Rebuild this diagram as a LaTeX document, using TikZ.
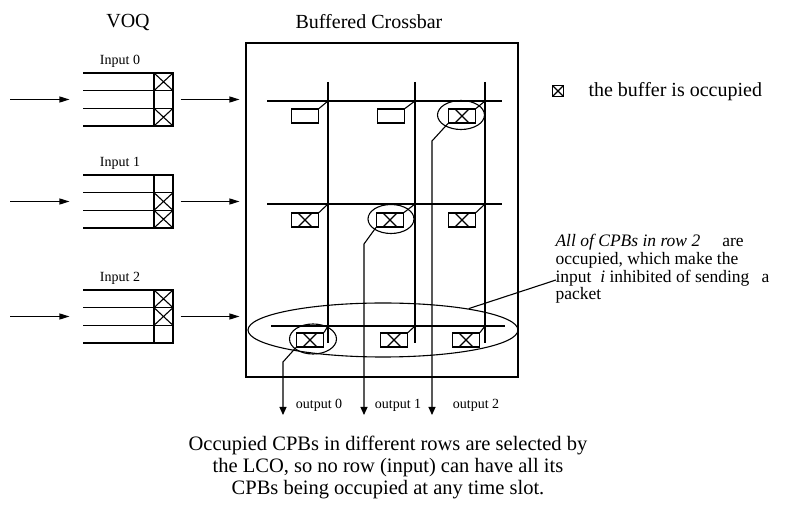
\documentclass[tikz,border=0pt]{standalone}
\usepackage{fontspec}
\setmainfont{Liberation Serif}
\usetikzlibrary{arrows.meta,positioning,calc,shapes.geometric}
\tikzset{every picture/.style={line width=1.1pt}}

\begin{document}
\begin{tikzpicture}[x=1pt,y=-1pt,
    arr/.style={-{Triangle[length=10pt,width=6pt]}},
    outarr/.style={-{Triangle[length=8pt,width=7pt]}},
    cell/.style={draw, minimum width=19pt, minimum height=17.67pt, inner sep=0pt},
    fullcell/.style={cell, path picture={\draw (path picture bounding box.north west) -- (path picture bounding box.south east)
        (path picture bounding box.south west) -- (path picture bounding box.north east);}},
    cpb/.style={draw, minimum width=27pt, minimum height=14pt, inner sep=0pt},
    fullcpb/.style={cpb, path picture={\draw ([xshift=-7pt]path picture bounding box.north) -- ([xshift=7pt]path picture bounding box.south)
        ([xshift=-7pt]path picture bounding box.south) -- ([xshift=7pt]path picture bounding box.north);}},
    ring/.style={draw, ellipse, inner sep=0pt},
    lbl/.style={font=\fontsize{14}{16}\selectfont, inner sep=0pt},
    big/.style={font=\fontsize{20}{22}\selectfont, inner sep=0pt}]
    \useasboundingbox (0,0) rectangle (785,510);

    % titles
    \node[big] (voq) at (128,23) {VOQ};
    \node[big] (bxtitle) at (369,22) {Buffered Crossbar};

    % crossbar frame
    \node[draw, minimum width=272pt, minimum height=334pt, inner sep=0pt] (xbar) at (382,210) {};

    % virtual output queues
    \foreach \i/\y/\a/\b/\c in {0/73/fullcell/cell/fullcell, 1/175/cell/fullcell/fullcell, 2/290/fullcell/fullcell/cell}{
        \node[lbl] (in\i) at (120,\y-12) {Input \i};
        \node[inner sep=0pt, minimum width=90pt, minimum height=53pt] (vq\i) at (128,\y+26.5) {};
        \foreach \k in {0,...,3} \draw (83,\y+\k*17.67) -- (154,\y+\k*17.67);
        \node[\a] (q\i0) at (163.5,\y+8.83) {};
        \node[\b] (q\i1) at (163.5,\y+26.5) {};
        \node[\c] (q\i2) at (163.5,\y+44.17) {};
        \coordinate (src\i) at (10,\y+26.5);
        \draw[arr, shorten >=13pt] (src\i) -- (vq\i.west);
        \draw[arr, shorten <=7pt, shorten >=6pt] (vq\i.east) -- (vq\i.east -| xbar.west);
    }

    % rows and columns of the crossbar
    \draw (267,101) -- (502,101);
    \draw (267,204) -- (502,204);
    \draw (271,326) -- (505,326);
    \foreach \x in {328,415,485} \draw (\x,82) -- (\x,343);
    \foreach \r/\y in {0/101,1/204,2/326}
        \foreach \c/\x in {0/328,1/415,2/485} \coordinate (x\r\c) at (\x,\y);

    % crosspoint buffers
    \node[cpb] (c00) at ($(x00)+(-23,15)$) {};
    \node[cpb] (c01) at ($(x01)+(-24,15)$) {};
    \node[fullcpb] (c02) at ($(x02)+(-23,15)$) {};
    \node[fullcpb] (c10) at ($(x10)+(-23,16)$) {};
    \node[fullcpb] (c11) at ($(x11)+(-25,16)$) {};
    \node[fullcpb] (c12) at ($(x12)+(-23,16)$) {};
    \node[fullcpb] (c20) at ($(x20)+(-18,14)$) {};
    \node[fullcpb] (c21) at ($(x21)+(-21,14)$) {};
    \node[fullcpb] (c22) at ($(x22)+(-19,14)$) {};
    \foreach \r in {0,1,2}
        \foreach \c in {0,1,2} \draw (c\r\c.north east) -- (x\r\c);

    % selected buffers
    \node[ring, minimum width=47pt, minimum height=29pt] (r02) at ([xshift=-1pt,yshift=1pt]c02) {};
    \node[ring, minimum width=46pt, minimum height=29pt] (r11) at ([xshift=1pt,yshift=1pt]c11) {};
    \node[ring, minimum width=47pt, minimum height=30pt] (r20) at ([xshift=3pt,yshift=1pt]c20) {};
    \node[ring, minimum width=270pt, minimum height=54pt] (rowring) at (383,330) {};

    % outputs
    \coordinate (k0) at (283,362);
    \coordinate (k1) at (364,244);
    \coordinate (k2) at (432,141);
    \coordinate (o0) at (283,415);
    \coordinate (o1) at (364,415);
    \coordinate (o2) at (432,415);
    \draw[outarr] (c20.south west) -- (k0) -- (o0);
    \draw[outarr] (c11.south west) -- (k1) -- (o1);
    \draw[outarr] (c02.south west) -- (k2) -- (o2);
    \node[lbl] (out0) at (319,405) {output 0};
    \node[lbl] (out1) at (398,405) {output 1};
    \node[lbl] (out2) at (476,405) {output 2};

    % legend
    \node[draw, minimum size=11pt, inner sep=0pt, line width=1.3pt,
        path picture={\draw (path picture bounding box.north west) -- (path picture bounding box.south east)
        (path picture bounding box.south west) -- (path picture bounding box.north east);}] (legbox) at (558,91) {};
    \node[anchor=west, inner sep=0pt, font=\fontsize{20}{22}\selectfont] (legtext) at (588,92) {the buffer is occupied};

    % remark on row 2
    \node[anchor=north west, align=left, inner sep=0pt, font=\fontsize{17.5}{17.7}\selectfont] (note) at (555,234)
        {\textit{All of CPBs in row 2}\hspace{22pt}are\\ occupied, which make the\\ input\ \ \textit{i}\ inhibited of sending\hspace{12pt}a\\ packet};
    \coordinate (noteend) at ($(note.north west)+(1,46)$);
    \draw (rowring.14) -- (noteend);

    % caption
    \node[align=center, inner sep=0pt, font=\fontsize{20.5}{22}\selectfont] (caption) at (388,467)
        {Occupied CPBs in different rows are selected by\\ the LCO, so no row (input) can have all its\\ CPBs being occupied at any time slot.};
\end{tikzpicture}
\end{document}
